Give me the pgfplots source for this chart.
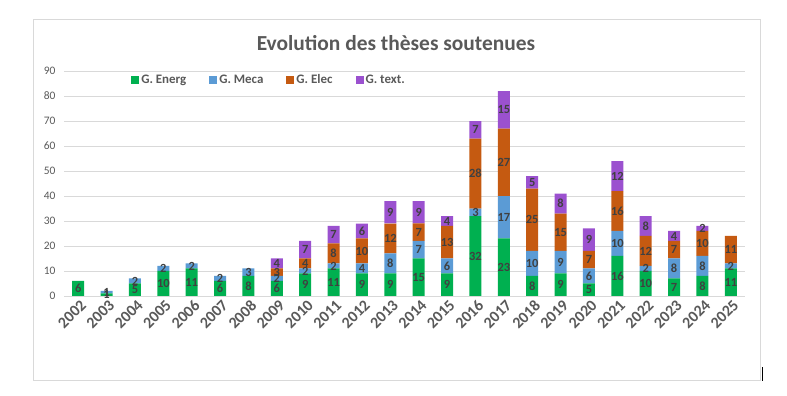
\documentclass[border=0pt]{standalone}
\usepackage{pgfplots}
\usepackage{pgfplotstable}
\pgfplotsset{compat=1.18}
\usepackage{fontspec}
\setmainfont{Carlito}
\definecolor{cEnerg}{HTML}{00B050}
\definecolor{cMeca}{HTML}{5B9BD5}
\definecolor{cElec}{HTML}{C55A11}
\definecolor{cText}{HTML}{9B51CF}
\definecolor{txtgray}{HTML}{595959}
\definecolor{lblgray}{HTML}{404040}
\definecolor{gridgray}{HTML}{D9D9D9}
\pgfplotstableread{
x year E M L T
0 2002 6 0 0 0
1 2003 1 1 0 0
2 2004 5 2 0 0
3 2005 10 2 0 0
4 2006 11 2 0 0
5 2007 6 2 0 0
6 2008 8 3 0 0
7 2009 6 2 3 4
8 2010 9 2 4 7
9 2011 11 2 8 7
10 2012 9 4 10 6
11 2013 9 8 12 9
12 2014 15 7 7 9
13 2015 9 6 13 4
14 2016 32 3 28 7
15 2017 23 17 27 15
16 2018 8 10 25 5
17 2019 9 9 15 8
18 2020 5 6 7 9
19 2021 16 10 16 12
20 2022 10 2 12 8
21 2023 7 8 7 4
22 2024 8 8 10 2
23 2025 11 2 11 0
}\data
\pgfplotsset{
  common/.style={
    at={(64bp,100bp)}, anchor=south west,
    scale only axis, width=681bp, height=225bp,
    xmin=-0.5, xmax=23.5, ymin=0, ymax=90,
    /pgf/number format/assume math mode=true,
  },
  lab/.style={draw=none, mark=none, point meta=explicit,
    nodes near coords={\pgfmathfloatifflags{\pgfplotspointmeta}{0}{}{\pgfmathprintnumber{\pgfplotspointmeta}}},
    nodes near coords align={center},
    every node near coord/.append style={anchor=center, inner sep=0pt, text=lblgray, font=\fontsize{12.5}{14}\selectfont\bfseries}},
}
\begin{document}
\begin{tikzpicture}
\path[use as bounding box] (0,0) rectangle (787bp,396bp);
\draw[gridgray, line width=0.75bp] (33bp,16bp) rectangle (760bp,377bp);
\draw[black, line width=1bp] (762bp,15bp) -- (762bp,29bp);
\node[text=txtgray, font=\fontsize{21.5}{24}\selectfont\bfseries] at (396bp,353bp) {Evolution des thèses soutenues};
\begin{axis}[common,
  ybar stacked, bar width=12bp,
  axis line style={draw=none},
  major tick length=0pt,
  ytick={0,10,...,90},
  ymajorgrids, grid style={gridgray, line width=0.75bp},
  xtick={0,...,23},
  xticklabels from table={\data}{year},
  xticklabel style={rotate=45, anchor=north east, text=txtgray, font=\fontsize{16}{18}\selectfont\bfseries, inner sep=1pt, yshift=-2bp},
  yticklabel style={text=txtgray, font=\fontsize{11.5}{13}\selectfont, xshift=-5bp},
  legend columns=4,
  legend style={at={(0.0985,0.96)}, anchor=west, draw=none, fill=none, inner sep=0pt,
    font=\fontsize{13}{15}\selectfont\bfseries, text=txtgray,
    /tikz/every even column/.append style={column sep=21bp}},
  legend image code/.code={\fill[#1] (0bp,-4bp) rectangle (8bp,4bp);},
]
\addplot[fill=cEnerg, draw=none] table[x=x, y=E] {\data};
\addplot[fill=cMeca, draw=none] table[x=x, y=M] {\data};
\addplot[fill=cElec, draw=none] table[x=x, y=L] {\data};
\addplot[fill=cText, draw=none] table[x=x, y=T] {\data};
\legend{G. Energ, G. Meca, G. Elec, G. text.}
\end{axis}
\begin{axis}[common, hide axis]
\addplot[lab] table[x=x, y expr=\thisrow{E}/2, meta=E] {\data};
\addplot[lab] table[x=x, y expr=\thisrow{E}+\thisrow{M}/2, meta=M] {\data};
\addplot[lab] table[x=x, y expr=\thisrow{E}+\thisrow{M}+\thisrow{L}/2, meta=L] {\data};
\addplot[lab] table[x=x, y expr=\thisrow{E}+\thisrow{M}+\thisrow{L}+\thisrow{T}/2, meta=T] {\data};
\end{axis}
\end{tikzpicture}
\end{document}
